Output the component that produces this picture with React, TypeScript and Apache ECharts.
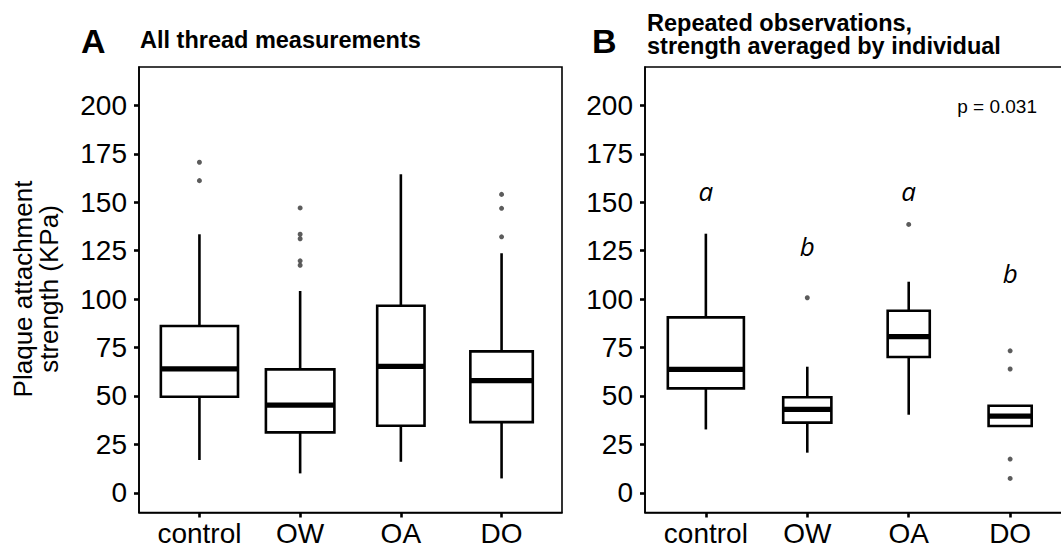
import React, { useEffect, useRef } from "react";
import * as echarts from "echarts";

const categories = ["control", "OW", "OA", "DO"];
const yTicks = [0, 25, 50, 75, 100, 125, 150, 175, 200];
const xTicks = [1, 2, 3, 4];

// [lower whisker, Q1, median, Q3, upper whisker]
const boxA = [
  [16.9, 49.6, 64.0, 86.1, 133.5],
  [10.0, 31.2, 45.3, 63.7, 104.2],
  [16.0, 34.6, 65.3, 96.6, 164.5],
  [7.4, 36.5, 57.9, 73.0, 123.7],
];
const widthA = [0.766, 0.68, 0.47, 0.62];
// [category index (1-based), value]
const outliersA = [
  [1, 170.7], [1, 161.2],
  [2, 147.1], [2, 133.5], [2, 131.2], [2, 119.8], [2, 117.5],
  [4, 154.1], [4, 146.9], [4, 132.2],
];

const boxB = [
  [32.7, 53.9, 63.7, 90.6, 133.8],
  [20.7, 36.2, 43.1, 49.3, 65.1],
  [40.3, 70.1, 80.6, 94.0, 109.0],
  [34.5, 34.5, 39.6, 44.9, 44.9],
];
const widthB = [0.75, 0.475, 0.415, 0.425];
const outliersB = [
  [2, 100.7],
  [3, 138.6],
  [4, 73.3], [4, 63.9], [4, 17.4], [4, 7.4],
];
const lettersB = ["a", "b", "a", "b"];
const letterYB = [155.6, 127.7, 155.6, 113.4];

const FONT = "'Liberation Sans', Arial, sans-serif";

function boxRender(widths: number[]) {
  return (params: any, api: any) => {
    const i = api.value(0);
    const lo = api.value(1), q1 = api.value(2), med = api.value(3), q3 = api.value(4), hi = api.value(5);
    const band = api.size([1, 0])[0];
    const w = band * widths[params.dataIndex];
    const [cx, yLo] = api.coord([i, lo]);
    const yQ1 = api.coord([i, q1])[1];
    const yMed = api.coord([i, med])[1];
    const yQ3 = api.coord([i, q3])[1];
    const yHi = api.coord([i, hi])[1];
    const ls = { stroke: "#000", lineWidth: 2.6 };
    return {
      type: "group",
      children: [
        { type: "line", shape: { x1: cx, y1: yHi, x2: cx, y2: yQ3 }, style: ls },
        { type: "line", shape: { x1: cx, y1: yQ1, x2: cx, y2: yLo }, style: ls },
        { type: "rect", shape: { x: cx - w / 2, y: yQ3, width: w, height: yQ1 - yQ3 }, style: { fill: "#fff", stroke: "#000", lineWidth: 2.6 } },
        { type: "line", shape: { x1: cx - w / 2, y1: yMed, x2: cx + w / 2, y2: yMed }, style: { stroke: "#000", lineWidth: 5.2 } },
      ],
    };
  };
}

function makeXAxis(gridIndex: number) {
  return {
    type: "value",
    gridIndex,
    min: 0.4,
    max: 4.6,
    position: "bottom",
    splitLine: { show: false },
    axisLine: { show: true, onZero: false, lineStyle: { color: "#000", width: 1.6 } },
    axisTick: { show: true, inside: false, length: 5, customValues: xTicks, lineStyle: { color: "#000", width: 2.6 } },
    axisLabel: {
      customValues: xTicks,
      formatter: (v: number) => categories[Math.round(v) - 1] ?? "",
      fontSize: 28,
      fontFamily: FONT,
      color: "#000",
      margin: 7,
    },
  };
}

function makeYAxis(gridIndex: number) {
  return {
    type: "value",
    gridIndex,
    min: -10.2,
    max: 219.9,
    position: "left",
    splitLine: { show: false },
    axisLine: { show: true, onZero: false, lineStyle: { color: "#000", width: 1.6 } },
    axisTick: { show: true, inside: false, length: 5, customValues: yTicks, lineStyle: { color: "#000", width: 2.6 } },
    axisLabel: {
      customValues: yTicks,
      fontSize: 28,
      fontFamily: FONT,
      color: "#000",
      margin: 12,
    },
  };
}

export default function App() {
  const ref = useRef<HTMLDivElement>(null);
  useEffect(() => {
    document.body.style.margin = "0";
    const chart = echarts.init(ref.current!, null, { renderer: "svg" });
    const gridBase = { show: true, borderColor: "#000", borderWidth: 1.6, backgroundColor: "transparent", outerBoundsMode: "none", containLabel: false };
    chart.setOption({
      animation: false,
      backgroundColor: "#fff",
      grid: [
        { ...gridBase, left: 139, top: 67, width: 423, height: 445.5 },
        { ...gridBase, left: 645, top: 67, width: 426, height: 445.5 },
      ],
      xAxis: [makeXAxis(0), makeXAxis(1)],
      yAxis: [makeYAxis(0), makeYAxis(1)],
      series: [
        {
          type: "custom",
          xAxisIndex: 0,
          yAxisIndex: 0,
          renderItem: boxRender(widthA),
          encode: { x: 0, y: [1, 2, 3, 4, 5] },
          data: boxA.map((b, i) => [i + 1, ...b]),
          z: 2,
        },
        {
          type: "scatter",
          xAxisIndex: 0,
          yAxisIndex: 0,
          data: outliersA,
          symbolSize: 5,
          itemStyle: { color: "#333" },
          z: 3,
        },
        {
          type: "custom",
          xAxisIndex: 1,
          yAxisIndex: 1,
          renderItem: boxRender(widthB),
          encode: { x: 0, y: [1, 2, 3, 4, 5] },
          data: boxB.map((b, i) => [i + 1, ...b]),
          z: 2,
        },
        {
          type: "scatter",
          xAxisIndex: 1,
          yAxisIndex: 1,
          data: outliersB,
          symbolSize: 5,
          itemStyle: { color: "#333" },
          z: 3,
        },
        {
          type: "custom",
          xAxisIndex: 1,
          yAxisIndex: 1,
          data: letterYB.map((y, i) => [i + 1, y]),
          encode: { x: 0, y: 1 },
          renderItem: (params: any, api: any) => {
            const p = api.coord([api.value(0), api.value(1)]);
            return {
              type: "text",
              x: p[0],
              y: p[1],
              style: {
                text: lettersB[params.dataIndex],
                fontSize: 26,
                fontStyle: "italic",
                fontFamily: "'Open Sans', sans-serif",
                fill: "#000",
                align: "center",
                verticalAlign: "middle",
              },
            };
          },
          z: 4,
        },
      ],
      graphic: [
        { type: "text", left: 81, top: 24, style: { text: "A", fontSize: 34, fontWeight: "bold", fontFamily: FONT, fill: "#000" } },
        { type: "text", x: 140, y: 40, style: { text: "All thread measurements", fontSize: 23.5, fontWeight: "bold", fontFamily: FONT, fill: "#000", verticalAlign: "middle" } },
        { type: "text", left: 592, top: 24, style: { text: "B", fontSize: 34, fontWeight: "bold", fontFamily: FONT, fill: "#000" } },
        {
          type: "text",
          x: 647,
          y: 34.5,
          style: {
            text: "Repeated observations,\nstrength averaged by individual",
            fontSize: 23.5,
            lineHeight: 23.5,
            fontWeight: "bold",
            fontFamily: FONT,
            fill: "#000",
            verticalAlign: "middle",
          },
        },
        { type: "text", x: 1037, y: 106.7, style: { text: "p = 0.031", fontSize: 19, fontFamily: FONT, fill: "#000", align: "right", verticalAlign: "middle" } },
        {
          type: "text",
          x: 36,
          y: 289,
          rotation: Math.PI / 2,
          style: {
            text: "Plaque attachment\nstrength (KPa)",
            fontSize: 26,
            lineHeight: 26,
            fontFamily: FONT,
            fill: "#000",
            align: "center",
            verticalAlign: "middle",
          },
        },
      ],
    });
    return () => chart.dispose();
  }, []);
  return <div ref={ref} style={{ position: "absolute", left: 0, top: 0, width: 1061, height: 550 }} />;
}
